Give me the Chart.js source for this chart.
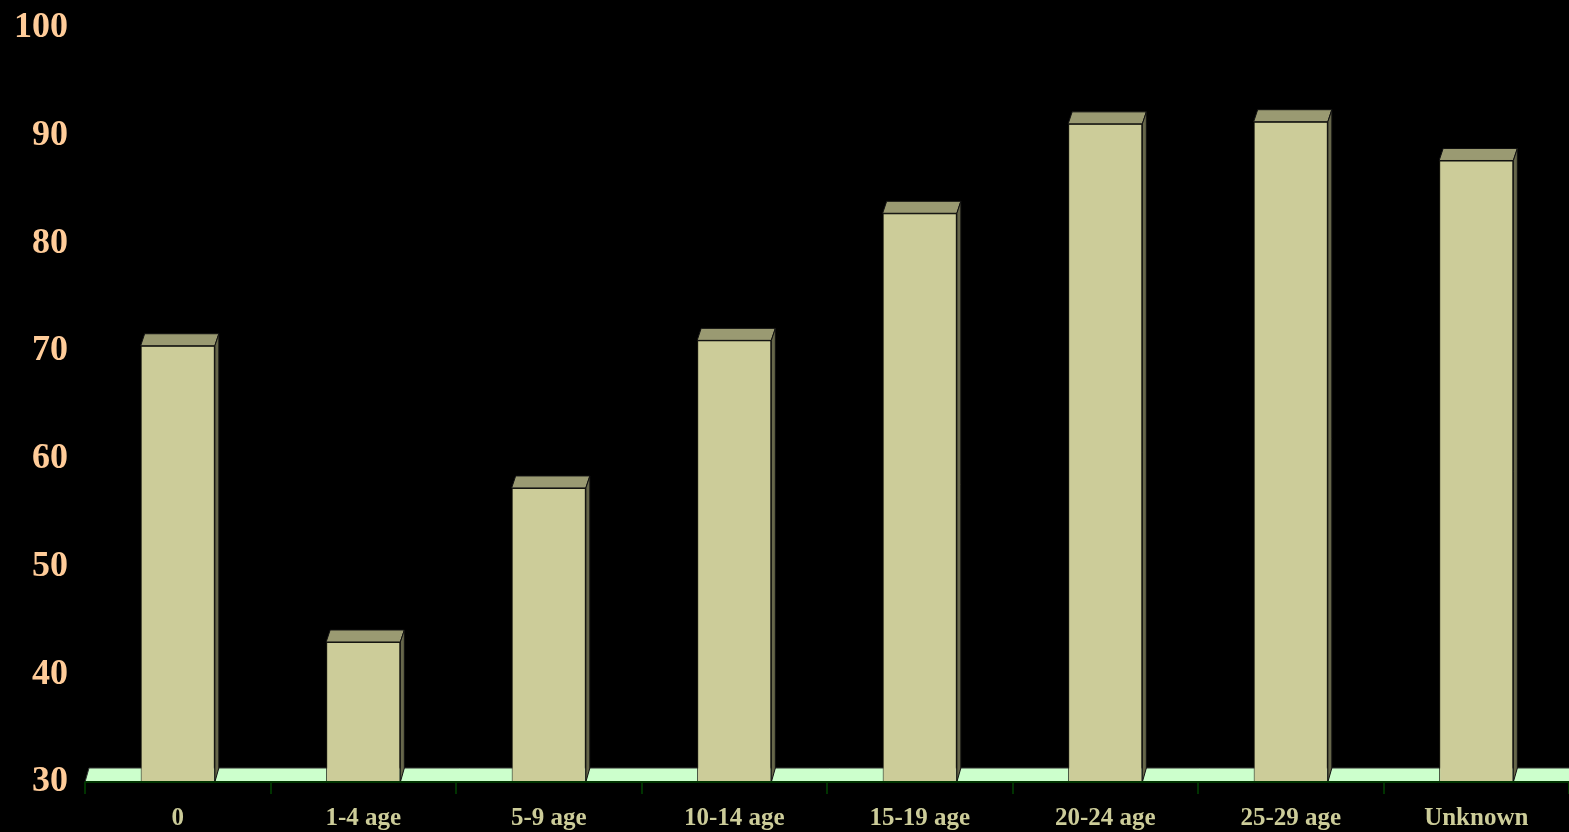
<!DOCTYPE html>
<html>
<head>
<meta charset="utf-8">
<script src="https://cdn.jsdelivr.net/npm/chart.js@4"></script>
<style>
html,body{margin:0;padding:0;background:#000;}
#wrap{width:1569px;height:832px;}
</style>
</head>
<body>
<div id="wrap"><canvas id="c"></canvas></div>
<script>
const categories = ["0", "1-4 age", "5-9 age", "10-14 age", "15-19 age", "20-24 age", "25-29 age", "Unknown"];
const values = [70.5, 43.0, 57.3, 71.0, 82.8, 91.1, 91.3, 87.7];
const yMin = 30, yMax = 100, yStep = 10;

const DX = 4, DY = 12;

const threeD = {
  id: 'threeD',
  beforeDatasetsDraw(chart) {
    const ctx = chart.ctx, a = chart.chartArea;
    const y0 = a.bottom;
    ctx.save();
    ctx.beginPath();
    ctx.moveTo(a.left, y0);
    ctx.lineTo(a.right, y0);
    ctx.lineTo(a.right + DX, y0 - DY - 2);
    ctx.lineTo(a.left + DX, y0 - DY - 2);
    ctx.closePath();
    ctx.fillStyle = '#CCFFCC';
    ctx.fill();
    ctx.strokeStyle = '#333333';
    ctx.lineWidth = 1;
    ctx.beginPath();
    ctx.moveTo(a.left + DX, y0 - DY - 2);
    ctx.lineTo(a.right + DX, y0 - DY - 2);
    ctx.moveTo(a.left, y0);
    ctx.lineTo(a.left + DX, y0 - DY - 2);
    ctx.stroke();
    ctx.restore();
  },
  afterDatasetsDraw(chart) {
    const ctx = chart.ctx;
    const a = chart.chartArea;
    const meta = chart.getDatasetMeta(0);
    const b = a.bottom;
    ctx.save();
    meta.data.forEach(bar => {
      const l = bar.x - bar.width / 2, r = bar.x + bar.width / 2, t = bar.y;
      ctx.beginPath();
      ctx.moveTo(l, t);
      ctx.lineTo(r, t);
      ctx.lineTo(r + DX, t - DY);
      ctx.lineTo(l + DX, t - DY);
      ctx.closePath();
      ctx.fillStyle = '#9A9A72';
      ctx.fill();
      ctx.strokeStyle = '#111111';
      ctx.lineWidth = 1;
      ctx.stroke();
      ctx.beginPath();
      ctx.moveTo(r, t);
      ctx.lineTo(r + DX, t - DY);
      ctx.lineTo(r + DX, b - DY - 2);
      ctx.lineTo(r, b);
      ctx.closePath();
      ctx.fillStyle = '#66664A';
      ctx.fill();
      ctx.stroke();
    });
    ctx.strokeStyle = '#003300';
    ctx.lineWidth = 2;
    ctx.beginPath();
    ctx.moveTo(a.left, a.bottom);
    ctx.lineTo(a.right, a.bottom);
    ctx.stroke();
    ctx.restore();
  }
};

new Chart(document.getElementById('c'), {
  type: 'bar',
  data: {
    labels: categories,
    datasets: [{
      data: values,
      backgroundColor: '#CCCC99',
      borderColor: '#1a1a10',
      borderWidth: 1,
      barPercentage: 0.4,
      categoryPercentage: 1.0
    }]
  },
  options: {
    responsive: true,
    maintainAspectRatio: false,
    animation: false,
    layout: { padding: { top: 28, right: 0, left: 0, bottom: 0 } },
    plugins: { legend: { display: false }, tooltip: { enabled: false } },
    scales: {
      x: {
        offset: true,
        grid: { display: true, offset: true, drawOnChartArea: false, drawTicks: true, tickLength: 12, color: '#003300', lineWidth: 2 },
        border: { display: false },
        ticks: { color: '#CCCC99', font: { family: 'Liberation Serif', size: 25, weight: 'bold' }, padding: 10, maxRotation: 0 },
        afterFit(s) { s.height = 50; s.paddingLeft = 0; s.paddingRight = 0; }
      },
      y: {
        min: yMin, max: yMax,
        grid: { display: false },
        border: { display: false },
        ticks: { stepSize: yStep, color: '#FFCC99', font: { family: 'Liberation Serif', size: 36, weight: 'bold' }, padding: 9 },
        afterFit(s) { s.width = 85; s.paddingTop = 0; s.paddingBottom = 0; }
      }
    }
  },
  plugins: [threeD]
});
</script>
</body>
</html>
